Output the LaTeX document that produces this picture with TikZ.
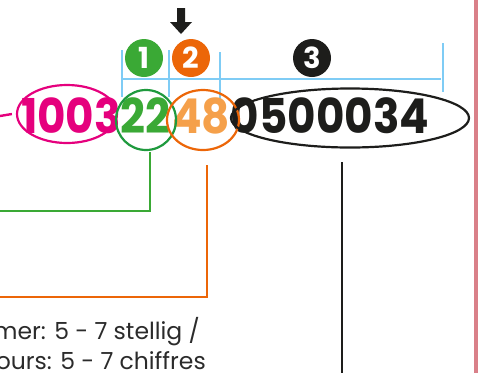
\documentclass[tikz,border=0pt]{standalone}
\usepackage{fontspec}
\setmainfont{Poppins}
\usetikzlibrary{shapes.geometric}
\definecolor{pinkc}{HTML}{E5007D}
\definecolor{greenc}{HTML}{3AA935}
\definecolor{greenring}{HTML}{1F9A3E}
\definecolor{orangec}{HTML}{EC6608}
\definecolor{lightorange}{HTML}{F5A04A}
\definecolor{blackc}{HTML}{1D1D1B}
\definecolor{bluec}{HTML}{7FCCF5}
\definecolor{barc}{HTML}{D98089}
\definecolor{textc}{HTML}{2B2B2B}
\newcommand{\narrow}[1]{\scalebox{0.91}[1]{#1}}
\begin{document}
\begin{tikzpicture}[x=1pt,y=-1pt,
  big/.style={font=\fontsize{48}{48}\selectfont\bfseries, inner sep=0pt, anchor=base},
  ring/.style={ellipse, draw, line width=2.2pt, inner sep=0pt},
  badge/.style={circle, minimum size=38pt, inner sep=0pt, text=white, font=\fontsize{29}{29}\selectfont\bfseries},
  blueline/.style={draw=bluec, line width=2pt},
  conn/.style={line width=2.4pt},
  label/.style={anchor=base east, inner sep=0pt, text=textc, font=\fontsize{23.5}{23.5}\selectfont}]
\useasboundingbox (0,0) rectangle (478,373);
% right bar
\fill[barc] (474,0) rectangle (478,373);
% blue scale
\draw[blueline] (122,79) -- (441,79);
\draw[blueline] (122,50) -- (122,97);
\draw[blueline] (169,50) -- (169,97);
\draw[blueline] (220,52) -- (220,100);
\draw[blueline] (443,43) -- (443,92);
% badges
\node[badge, fill=greenc] (b1) at (144,58) {1};
\node[badge, fill=orangec] (b2) at (191,58) {2};
\node[badge, fill=blackc] (b3) at (312,58) {3};
% arrow
\fill[blackc] (177,8) -- (185,8) -- (185,22) -- (192,22) -- (181,34) -- (170,22) -- (177,22) -- cycle;
% digits
\node[big, text=pinkc] (n1) at (71,133) {\narrow{1003}};
\node[big, text=greenc] (n2) at (145,133) {\narrow{22}};
\node[big, text=lightorange] (n3) at (201,133) {\narrow{48}};
\node[big, text=blackc] (n4) at (330,133) {\narrow{0500034}};
% rings
\node[ring, draw=pinkc, minimum width=100pt, minimum height=58pt] (e1) at (67,114) {};
\node[ring, draw=greenring, minimum width=60pt, minimum height=60pt] (e2) at (146,120) {};
\node[ring, draw=orangec, minimum width=72pt, minimum height=60pt] (e3) at (203,120) {};
\node[ring, draw=blackc, minimum width=238pt, minimum height=59pt] (e4) at (350,118) {};
% connectors
\coordinate (p0) at (0,116);
\draw[conn, pinkc] (p0) -- ([xshift=-4pt]e1.west);
\coordinate (g0) at (150,152);
\coordinate (g1) at (0,211);
\draw[conn, greenc] (g0) |- (g1);
\coordinate (o0) at (207,165);
\coordinate (o1) at (0,297);
\draw[conn, orangec] (o0) |- (o1);
\coordinate (k0) at (342,162);
\coordinate (k1) at (342,373);
\draw[conn, blackc, line width=2.8pt] (k0) -- (k1);
% labels
\node[label] (t1) at (200,339) {mer: 5 - 7 stellig /};
\node[label] (t2) at (206,369) {ours: 5 - 7 chiffres};
\end{tikzpicture}
\end{document}
